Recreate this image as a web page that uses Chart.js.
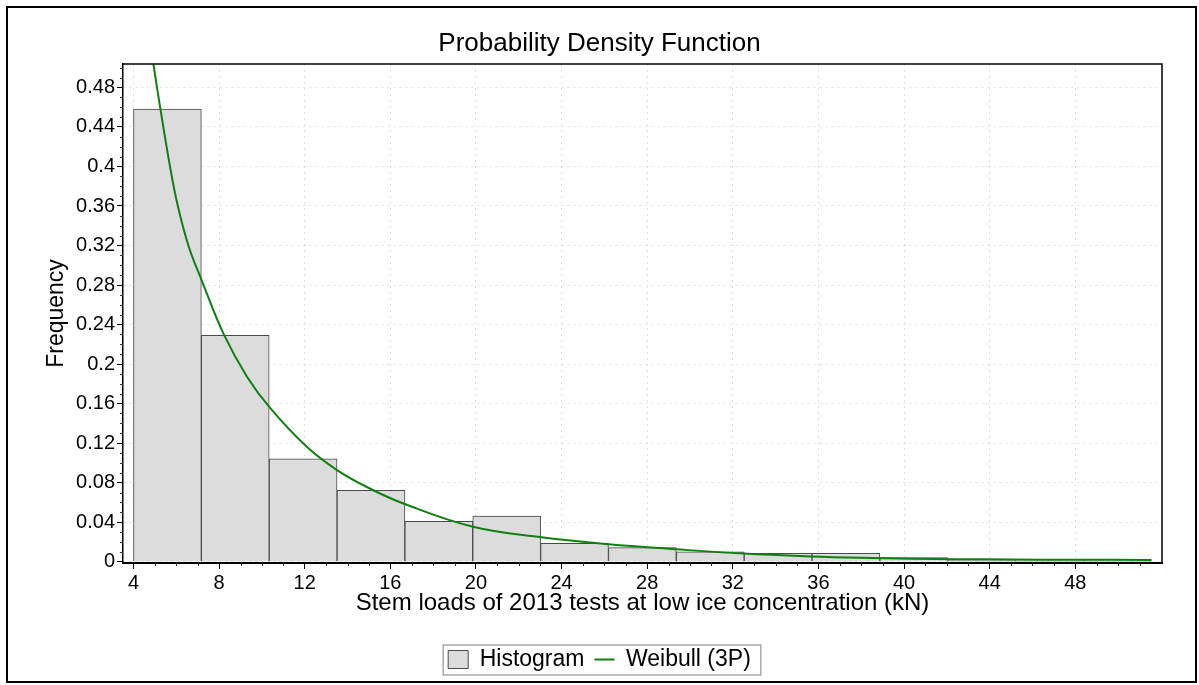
<!DOCTYPE html>
<html><head><meta charset="utf-8">
<script src="https://cdn.jsdelivr.net/npm/chart.js@4.4.0/dist/chart.umd.min.js"></script>
<style>html,body{margin:0;padding:0;background:#fff;}canvas{display:block}</style>
</head><body>
<canvas id="c" width="1199" height="685"></canvas>
<script>
// ---- data ----
const binCenters = [5.585, 8.755, 11.925, 15.095, 18.265, 21.435, 24.605, 27.775, 30.945, 34.115, 37.285, 40.455, 43.625, 46.795, 49.965];
const binFrequency = [0.458, 0.229, 0.104, 0.0723, 0.0409, 0.0463, 0.0186, 0.0142, 0.0101, 0.0085, 0.0085, 0.0042, 0.0012, 0.0022, 0.0022];
const weibullX = [4.85, 4.93, 5.26, 5.65, 6.04, 6.58, 7.2, 8.22, 9.31, 10.37, 12.11, 13.49, 14.99, 16.67, 19.86, 23.07, 26.2, 29.33, 32.5, 35.64, 37.97, 40.3, 42.5, 45, 48, 51.55];
const weibullY = [0.52, 0.504, 0.458, 0.407, 0.363, 0.319, 0.284, 0.23, 0.187, 0.156, 0.116, 0.093, 0.0746, 0.0584, 0.0354, 0.0247, 0.0176, 0.0126, 0.0082, 0.0053, 0.0039, 0.0031, 0.0026, 0.0022, 0.002, 0.0018];
const xTickValues = [4, 8, 12, 16, 20, 24, 28, 32, 36, 40, 44, 48];
const yTickValues = [0, 0.04, 0.08, 0.12, 0.16, 0.2, 0.24, 0.28, 0.32, 0.36, 0.4, 0.44, 0.48];
const seriesNames = ['Histogram', 'Weibull (3P)'];

const FONT = '"Liberation Sans", Arial, sans-serif';
Chart.defaults.font.family = FONT;
Chart.defaults.color = '#000';

const framePlugin = {
  id: 'frame',
  afterDraw(chart) {
    const {ctx, chartArea: a, scales} = chart;
    ctx.save();
    ctx.setLineDash([]);
    ctx.strokeStyle = '#000'; ctx.lineWidth = 2;
    ctx.strokeRect(7, 7, 1189, 675);
    ctx.lineWidth = 1.5;
    ctx.beginPath();
    ctx.moveTo(a.left, a.top); ctx.lineTo(a.right, a.top); ctx.lineTo(a.right, a.bottom);
    ctx.stroke();
    ctx.lineWidth = 1;
    ctx.strokeStyle = '#333';
    ctx.beginPath();
    for (let v = 4; v <= 52; v += 1) {
      if (v % 4 === 0) continue;
      const px = Math.round(scales.x.getPixelForValue(v)) + 0.5;
      ctx.moveTo(px, a.bottom); ctx.lineTo(px, a.bottom + 3);
    }
    for (let k = 1; k <= 50; k++) {
      if (k % 4 === 0) continue;
      const py = Math.round(scales.y.getPixelForValue(k / 100)) + 0.5;
      ctx.moveTo(a.left - 3, py); ctx.lineTo(a.left, py);
    }
    ctx.stroke();
    const hb = chart.legend && chart.legend.legendHitBoxes;
    if (hb && hb.length) {
      const l = hb[0].left - 5;
      const last = hb[hb.length - 1];
      const r = last.left + last.width + 10;
      const t = hb[0].top - 3;
      const b = hb[0].top + hb[0].height + 4;
      ctx.strokeStyle = '#a8a8a8'; ctx.lineWidth = 1.5;
      ctx.strokeRect(l, t, r - l, b - t);
    }
    ctx.restore();
  }
};

const histData = binCenters.map((x, i) => ({x, y: binFrequency[i]}));
const curveData = weibullX.map((x, i) => ({x, y: weibullY[i]}));

new Chart(document.getElementById('c'), {
  type: 'bar',
  data: {
    datasets: [
      {
        type: 'bar', label: seriesNames[0], data: histData,
        backgroundColor: '#dcdcdc', borderColor: '#4a4a4a', borderWidth: 1,
        barPercentage: 1, categoryPercentage: 1, order: 1
      },
      {
        type: 'line', label: seriesNames[1], data: curveData,
        borderColor: '#0f7f12', borderWidth: 2, pointRadius: 0, pointHoverRadius: 0,
        tension: 0.4, fill: false, order: 0, clip: 0
      }
    ]
  },
  options: {
    responsive: false, animation: false, devicePixelRatio: 1,
    layout: {padding: {left: 37, right: 37, top: 0, bottom: 4}},
    plugins: {
      tooltip: {enabled: false},
      title: {
        display: true, text: 'Probability Density Function', color: '#000',
        font: {size: 26, weight: 'normal'}, padding: {top: 28, bottom: 4.8}
      },
      legend: {
        position: 'bottom',
        labels: {
          usePointStyle: true, pointStyleWidth: 20, boxHeight: 18, padding: 10,
          color: '#000', font: {size: 23},
          generateLabels: (chart) => [
            {text: seriesNames[0], datasetIndex: 0, hidden: false, fillStyle: '#dcdcdc', strokeStyle: '#4a4a4a', lineWidth: 1, pointStyle: 'rect', fontColor: '#000'},
            {text: seriesNames[1], datasetIndex: 1, hidden: false, fillStyle: '#0f7f12', strokeStyle: '#0f7f12', lineWidth: 2, pointStyle: 'line', fontColor: '#000'}
          ]
        }
      }
    },
    scales: {
      x: {
        type: 'linear', min: 3.51, max: 52.05, offset: false,
        afterBuildTicks: s => { s.ticks = xTickValues.map(v => ({value: v})); },
        afterFit: s => { s.height = 75; },
        ticks: {font: {size: 20}, color: '#000', padding: 2, maxRotation: 0, autoSkip: false},
        grid: {color: 'rgba(0,0,0,0.12)', tickColor: '#000', tickLength: 6, tickWidth: 1, tickBorderDash: [], offset: false},
        border: {display: true, color: '#000', width: 2, dash: [2, 4]},
        title: {display: true, text: 'Stem loads of 2013 tests at low ice concentration (kN)', color: '#000', font: {size: 24}, padding: {top: 0, bottom: 20}}
      },
      y: {
        type: 'linear', min: -0.0013, max: 0.5037,
        afterBuildTicks: s => { s.ticks = yTickValues.map(v => ({value: v})); },
        afterFit: s => { s.width = 86; },
        ticks: {font: {size: 20}, color: '#000', padding: 2, autoSkip: false,
          callback: v => String(Number(v.toFixed(2)))},
        grid: {color: 'rgba(0,0,0,0.12)', tickColor: '#000', tickLength: 6, tickWidth: 1, tickBorderDash: []},
        border: {display: true, color: '#000', width: 1.5, dash: [2, 4]},
        title: {display: true, text: 'Frequency', color: '#000', font: {size: 23}, padding: {top: 6, bottom: 0}}
      }
    }
  },
  plugins: [framePlugin]
});
</script>
</body></html>
